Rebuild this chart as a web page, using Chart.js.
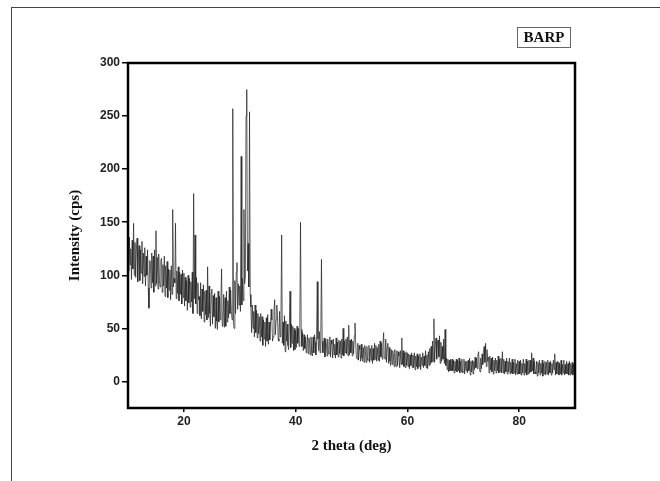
<!DOCTYPE html>
<html>
<head>
<meta charset="utf-8">
<script src="https://cdn.jsdelivr.net/npm/chart.js@4.4.1/dist/chart.umd.min.js"></script>
<style>
  html, body { margin: 0; padding: 0; background: #fff; overflow: hidden; }
  #wrap { position: relative; width: 660px; height: 481px; }
  #frame { position: absolute; left: 11px; top: 7px; width: 700px; height: 520px; border: 1px solid #444; box-sizing: border-box; }
  #chart { position: absolute; left: 0; top: 0; }
  #tag {
    position: absolute; left: 517px; top: 27px; width: 54px; height: 21px;
    border: 1px solid #666; box-sizing: border-box;
    font: bold 15px "Liberation Serif", "Times New Roman", serif; color: #111;
    text-align: center; line-height: 19px;
  }
</style>
</head>
<body>
<div id="wrap">
  <div id="frame"></div>
  <canvas id="chart" width="660" height="481"></canvas>
  <div id="tag">BARP</div>
</div>
<script>
// scan grid (deg 2θ)
const startDeg = 10;
const stepDeg = 0.125;

// intensity (cps), 8 readings per degree
const counts10to20 = [
  130,104,136,110,125,96,133,106,   149,100,131,98,124,135,94,120,
  128,95,124,102,132,92,121,99,     126,90,118,100,124,88,69,114,
  113,88,121,93,118,84,124,90,      142,92,117,87,120,95,89,114,
  116,84,110,90,118,80,109,88,      113,79,106,86,105,77,109,82,
  162,89,97,93,149,78,104,83,       108,76,103,82,101,73,105,79];
const counts20to30 = [
  102,71,98,76,95,67,100,74,        97,70,94,75,103,64,177,78,
  138,73,98,64,93,77,80,62,         93,59,87,66,91,56,85,63,
  86,58,108,60,90,64,52,83,         87,54,81,61,83,50,79,57,
  49,85,56,80,58,77,106,52,         55,82,51,79,52,85,56,76,
  60,89,64,86,66,58,257,54,         50,95,64,103,112,68,92,72];
const counts30to40 = [
  90,66,212,72,97,76,162,92,        98,250,275,104,130,89,254,82,
  70,46,72,50,66,42,72,46,          67,41,64,45,61,38,64,42,
  61,34,58,40,56,33,60,38,          63,35,56,39,54,68,58,38,
  42,66,77,44,58,72,62,40,          38,66,42,62,138,36,56,34,
  62,28,57,38,54,34,30,52,          85,32,54,36,52,29,50,30];
const counts40to50 = [
  48,32,52,36,50,33,55,150,         49,33,46,29,44,31,42,27,
  36,44,26,41,37,25,42,27,          24,42,27,44,37,25,43,94,
  40,29,47,27,42,115,38,27,         35,41,23,40,36,24,40,26,
  26,42,23,39,35,22,40,25,          35,22,41,25,37,23,39,26,
  38,22,40,25,50,24,38,27,          40,26,42,24,53,25,39,27];
const counts50to60 = [
  40,24,38,26,43,55,35,23,          21,36,20,34,30,19,35,22,
  19,32,18,34,28,18,33,20,          20,34,18,31,20,34,17,31,
  20,36,21,34,19,32,20,35,          19,38,23,36,21,34,46,22,
  21,40,18,32,36,17,32,19,          15,30,16,29,25,14,30,17,
  14,29,15,28,24,13,29,16,          41,16,29,14,27,13,28,15];
const counts60to70 = [
  27,14,26,12,25,15,27,13,          25,13,27,11,24,14,26,12,
  24,14,26,11,23,15,27,13,          24,15,29,13,25,12,28,15,
  31,16,33,18,38,19,59,18,          34,41,21,36,39,23,43,17,
  37,19,33,21,40,17,49,15,          22,11,21,9,20,10,21,10,
  21,10,20,8,19,10,21,9,            20,10,22,8,19,9,21,8];
const counts70to80 = [
  9,21,7,19,10,19,8,20,             10,22,6,19,9,20,7,19,
  11,23,13,22,12,25,28,13,          9,22,12,26,16,29,33,18,
  36,14,30,19,23,8,24,11,           22,9,23,7,20,10,22,8,
  20,10,24,8,21,9,22,8,             28,8,21,7,19,9,22,7,
  19,9,22,7,18,8,21,7,              18,8,21,6,17,7,20,7];
const counts80to90 = [
  19,7,20,6,17,8,21,6,              17,8,21,6,19,7,20,8,
  20,9,27,10,22,7,19,9,             7,19,5,18,8,20,6,17,
  8,20,5,17,7,19,6,18,              7,20,6,18,8,19,6,17,
  8,20,11,26,6,18,7,19,             18,6,17,7,20,6,16,8,
  20,6,16,7,19,7,17,6,              19,6,17,7,18,6,16,8,
  13];

const xTickValues = [20, 40, 60, 80];
const yTickValues = [0, 50, 100, 150, 200, 250, 300];

const counts = [].concat(counts10to20, counts20to30, counts30to40, counts40to50,
                         counts50to60, counts60to70, counts70to80, counts80to90);
const points = counts.map((c, i) => ({ x: startDeg + i * stepDeg, y: c }));

// thick box round the plot area
const plotBox = {
  id: 'plotBox',
  afterDatasetsDraw(chart) {
    const { ctx, chartArea: a } = chart;
    ctx.save();
    ctx.strokeStyle = '#000';
    ctx.lineWidth = 2.5;
    ctx.strokeRect(a.left, a.top, a.right - a.left, a.bottom - a.top);
    ctx.restore();
  }
};

const tickFont = { family: 'Liberation Sans, Arial, sans-serif', size: 12, weight: 'bold' };
const titleFont = { family: 'Liberation Serif, Times New Roman, serif', size: 15, weight: 'bold' };

new Chart(document.getElementById('chart'), {
  type: 'line',
  data: {
    datasets: [{
      data: points,
      borderColor: 'rgba(35,35,35,0.8)',
      borderWidth: 0.9,
      pointRadius: 0,
      tension: 0,
      fill: false
    }]
  },
  options: {
    responsive: false,
    animation: false,
    devicePixelRatio: 1,
    layout: { padding: { left: 40, right: 85, top: 63, bottom: 20 } },
    plugins: { legend: { display: false }, tooltip: { enabled: false } },
    scales: {
      x: {
        type: 'linear',
        min: 10,
        max: 90,
        afterBuildTicks: s => { s.ticks = xTickValues.map(v => ({ value: v })); },
        afterFit: s => { s.height = 53; },
        border: { display: false },
        grid: { drawOnChartArea: false, drawTicks: true, tickLength: 4, color: '#000', lineWidth: 1.5 },
        ticks: { color: '#222', font: tickFont, padding: 2, maxRotation: 0 },
        title: { display: true, text: '2 theta (deg)', color: '#111', font: titleFont, padding: { top: 0, bottom: 6 } }
      },
      y: {
        min: -25,
        max: 300,
        afterBuildTicks: s => { s.ticks = yTickValues.map(v => ({ value: v })); },
        afterFit: s => { s.width = 88; },
        border: { display: false },
        grid: { drawOnChartArea: false, drawTicks: true, tickLength: 6, color: '#000', lineWidth: 1.5 },
        ticks: { color: '#222', font: tickFont, padding: 2 },
        title: { display: true, text: 'Intensity (cps)', color: '#111', font: titleFont, padding: { top: 26, bottom: 0 } }
      }
    }
  },
  plugins: [plotBox]
});
</script>
</body>
</html>
